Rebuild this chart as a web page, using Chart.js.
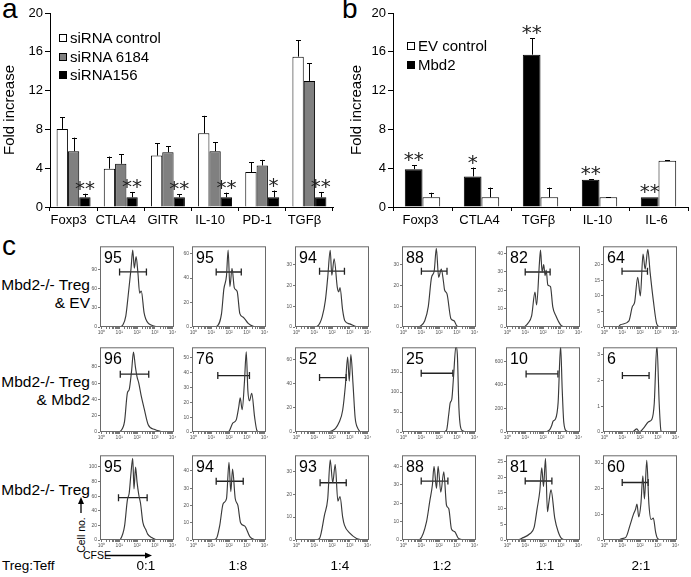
<!DOCTYPE html>
<html>
<head>
<meta charset="utf-8">
<script src="https://cdn.jsdelivr.net/npm/chart.js@4.4.0/dist/chart.umd.min.js"></script>
<style>
  body { margin: 0; background: #fff; }
  #fig { position: relative; width: 691px; height: 577px; overflow: hidden; background: #fff;
         font-family: "Liberation Sans", Arial, sans-serif; color: #000; }
  #fig canvas { position: absolute; }
  .t { position: absolute; white-space: nowrap; }
  .letter { font-size: 28px; line-height: 28px; }
  .legend { position: absolute; font-size: 15px; line-height: 18px; }
  .legend div { position: relative; padding-left: 11px; height: 18.5px; }
  .legend span { position: absolute; left: 0; top: 5px; width: 6px; height: 6px; border: 1px solid #000; }
  .rowlab { position: absolute; left: 0; width: 90px; text-align: right; font-size: 15.5px; line-height: 18px; }
  .ratio { position: absolute; top: 558px; width: 40px; margin-left: -20px; text-align: center; font-size: 13.5px; }
</style>
</head>
<body>
<div id="fig">
  <div class="t letter" style="left:2px;top:-5px;">a</div>
  <div class="t letter" style="left:342px;top:-5px;">b</div>
  <div class="t letter" style="left:2px;top:232px;">c</div>
  <canvas id="chartA" width="340" height="235" style="left:0;top:0;"></canvas>
  <canvas id="chartB" width="351" height="235" style="left:340px;top:0;"></canvas>
  <div id="legendA" class="legend" style="left:59px;top:29px;"></div>
  <div id="legendB" class="legend" style="left:407px;top:37px;"></div>
  <div class="rowlab" style="top:276px;">Mbd2-/- Treg<br>&amp; EV</div>
  <div class="rowlab" style="top:373px;">Mbd2-/- Treg<br>&amp; Mbd2</div>
  <div class="rowlab" style="top:481px;">Mbd2-/- Treg</div>
  <div class="t" style="left:2px;top:558px;font-size:13.5px;">Treg:Teff</div>
  <div class="t" style="left:62px;top:529px;font-size:10.5px;transform:rotate(-90deg);transform-origin:center;width:38px;text-align:center;">Cell no.</div>
  <div class="t" style="left:83px;top:549px;font-size:10.5px;">CFSE</div>
  <svg style="position:absolute;left:0;top:0;" width="691" height="577">
    <line x1="81" y1="513" x2="81" y2="503" stroke="#000" stroke-width="1.3"/>
    <polygon points="78,504 84,504 81,497" fill="#000"/>
    <line x1="106" y1="555.5" x2="146" y2="555.5" stroke="#000" stroke-width="1.3"/>
    <polygon points="145,552.5 145,558.5 152,555.5" fill="#000"/>
  </svg>
</div>
<script>
// ---- panel a: siRNA knock-down ----
const genesA = ['Foxp3', 'CTLA4', 'GITR', 'IL-10', 'PD-1', 'TGFβ'];
const seriesA = ['siRNA control', 'siRNA 6184', 'siRNA156'];
const ctrlA = [8.05, 3.95, 5.3, 7.6, 3.6, 15.5];
const ctrlErrA = [1.2, 1.25, 1.25, 1.8, 1.0, 1.7];
const s6184A = [5.75, 4.45, 5.65, 5.75, 4.28, 13.0];
const s6184ErrA = [1.4, 1.0, 0.6, 0.9, 0.58, 1.8];
const s156A = [1, 1, 1, 1, 1, 1];
const s156ErrA = [0.37, 0.55, 0.3, 0.48, 0.7, 0.55];
const starsA = ['**', '**', '**', '**', '*', '**'];

// ---- panel b: Mbd2 over-expression ----
const genesB = ['Foxp3', 'CTLA4', 'TGFβ', 'IL-10', 'IL-6'];
const seriesB = ['EV control', 'Mbd2'];
const mbd2B = [3.9, 3.15, 15.7, 2.8, 1.0];
const mbd2ErrB = [0.42, 0.92, 1.7, 0.07, 0];
const evB = [1.0, 1.0, 1.0, 1.0, 4.78];
const evErrB = [0.47, 1.0, 1.0, 0.03, 0.06];
const starsB = ['**', '*', '**', '**', '**'];

// ---- panel c: CFSE histograms, points are [log10 CFSE, cell count] ----
const row1Curves = [
  [[1.05,0],[1.2,3],[1.37,17],[1.5,48],[1.66,90],[1.76,120],[1.85,92],[1.95,110],[2.05,85],[2.15,53],[2.24,56],[2.4,22],[2.5,12],[2.63,6],[2.8,3],[3.0,1],[3.2,0]],
  [[1.1,0],[1.3,0.5],[1.58,11],[1.71,31],[1.86,42],[1.95,63],[2.05,33],[2.17,48],[2.3,32],[2.46,29],[2.61,11],[2.8,8],[3.08,3],[3.36,0.5],[3.5,0]],
  [[1.0,0],[1.2,0.5],[1.45,5],[1.63,13],[1.76,24],[1.9,37],[1.99,25],[2.12,33],[2.3,19],[2.38,17],[2.45,19],[2.6,8],[2.72,3],[3.0,1.5],[3.3,0.3],[3.5,0]],
  [[0.9,0],[1.2,3],[1.4,10],[1.58,24],[1.73,27],[1.85,38],[1.98,24],[2.13,28],[2.25,22],[2.31,18],[2.45,16],[2.67,4],[2.85,3],[3.0,0.5],[3.2,0]],
  [[0.95,0],[1.15,2],[1.36,6],[1.55,19],[1.64,12],[1.8,35],[1.86,42],[1.95,30],[2.04,34],[2.12,28],[2.18,31],[2.27,23],[2.42,22],[2.55,11],[2.73,6],[3.0,1],[3.2,0]],
  [[0.8,0],[0.9,0.7],[1.38,2],[1.56,6.4],[1.7,8],[1.87,16],[2.02,10],[2.17,23.5],[2.29,18.6],[2.44,25],[2.57,17.5],[2.75,8.5],[2.94,1],[3.1,0]]
];
const row2Curves = [
  [[1.0,0],[1.07,1],[1.3,13],[1.46,48],[1.56,52],[1.7,76],[1.8,98],[1.91,80],[2.0,68],[2.1,60],[2.24,44],[2.4,29],[2.63,9],[3.0,3],[3.3,1],[3.5,0]],
  [[1.95,0],[2.03,1],[2.21,6],[2.4,8],[2.55,17],[2.63,23],[2.74,15],[2.87,34],[2.97,54],[3.06,28],[3.15,21],[3.28,26],[3.44,10],[3.57,1],[3.7,0]],
  [[1.8,0],[2.0,1],[2.2,3],[2.4,8],[2.6,18],[2.75,38],[2.88,62],[2.97,42],[3.06,64],[3.18,40],[3.3,12],[3.45,3],[3.6,0]],
  [[2.2,0],[2.42,4],[2.55,45],[2.63,73],[2.72,82],[2.82,140],[2.95,215],[3.03,195],[3.12,60],[3.2,15],[3.32,3],[3.55,0]],
  [[2.2,0],[2.38,20],[2.5,60],[2.57,93],[2.7,110],[2.85,250],[2.99,730],[3.08,360],[3.17,80],[3.32,8],[3.5,0]],
  [[1.6,0],[1.82,0.12],[1.97,0],[2.2,0.15],[2.48,0.4],[2.67,0.5],[2.8,1.1],[2.95,3.4],[3.08,1.1],[3.18,0.05],[3.3,0]]
];
const row3Curves = [
  [[1.0,0],[1.07,1],[1.3,19],[1.46,55],[1.56,64],[1.66,91],[1.76,112],[1.83,70],[1.92,100],[2.0,80],[2.1,62],[2.2,50],[2.33,24],[2.5,14],[2.6,8],[2.85,3],[3.1,0]],
  [[1.1,0],[1.3,1],[1.48,8.5],[1.67,21],[1.86,24],[2.0,45],[2.1,28],[2.2,41],[2.35,24],[2.5,20],[2.65,10],[2.89,8],[3.17,2],[3.5,0]],
  [[1.1,0],[1.3,0.7],[1.58,11],[1.76,18],[1.9,35],[2.04,25],[2.18,33],[2.33,17],[2.45,19],[2.6,10],[2.7,6.5],[3.0,3],[3.38,0.7],[3.7,0]],
  [[0.8,0],[0.92,0.3],[1.3,10],[1.48,21],[1.63,30],[1.72,40],[1.86,28],[1.95,40],[2.1,26],[2.27,37],[2.42,19],[2.55,17],[2.7,6],[2.89,4.5],[3.08,1],[3.36,0]],
  [[0.6,0],[0.79,0.5],[1.26,2],[1.5,4],[1.67,10],[1.82,15.6],[1.93,23],[2.03,17],[2.14,26],[2.25,9],[2.33,12],[2.45,16],[2.66,7],[2.85,2.7],[3.04,0.5],[3.3,0]],
  [[0.8,0],[1.0,0.6],[1.2,1],[1.45,6],[1.63,10],[1.75,12],[1.83,14],[1.93,9],[2.05,14],[2.16,25],[2.25,16],[2.38,31],[2.5,14],[2.62,8],[2.75,8.5],[2.88,3],[3.0,0.5],[3.2,0]]
];
// gated percentage, gate [from, to, level] and y-axis range per histogram
const row1Pct = [95, 95, 94, 88, 82, 64];
const row2Pct = [96, 76, 52, 25, 10, 6];
const row3Pct = [95, 94, 93, 88, 81, 60];
const row1Gates = [[1.02,2.53,86],[1.28,2.69,45],[1.3,2.7,27],[1.01,2.45,27],[1.0,2.4,30],[0.99,2.42,18]];
const row2Gates = [[1.06,2.66,71],[1.37,3.15,38],[1.3,2.8,45],[1.0,2.78,147],[1.05,2.84,494],[1.01,2.51,2.2]];
const row3Gates = [[0.96,2.57,58],[1.28,2.8,34],[1.33,2.8,25],[1.0,2.5,32],[1.0,2.5,18.8],[1.0,2.46,22.4]];
const row1YMax = [126, 66, 39, 39, 44, 26];
const row2YMax = [104, 57, 70, 212, 720, 3.3];
const row3YMax = [116, 49, 37, 46, 27, 33];
const row1YStep = [30, 20, 10, 10, 10, 5];
const row2YStep = [20, 10, 20, 50, 200, 1];
const row3YStep = [20, 10, 10, 10, 5, 10];
const ratios = ['0:1', '1:8', '1:4', '1:2', '1:1', '2:1'];

// layout of the histogram grid (pixels)
const colLeft = [100, 192, 295, 402, 506, 603];
const rowTop = [244, 345, 453];
const rowBottom = [327, 432, 540];
const ratioX = [146, 238, 340, 442, 545, 641];
const FRAME_W = 74;

Chart.defaults.font.family = '"Liberation Sans", Arial, sans-serif';
Chart.defaults.color = '#000';

const fig = document.getElementById('fig');

// legends
function buildLegend(id, names, fills) {
  const el = document.getElementById(id);
  names.forEach((n, i) => {
    const row = document.createElement('div');
    row.innerHTML = '<span style="background:' + fills[i] + '"></span>' + n;
    el.appendChild(row);
  });
}
buildLegend('legendA', seriesA, ['#fff', '#808080', '#000']);
buildLegend('legendB', seriesB, ['#fff', '#000']);

ratios.forEach((r, i) => {
  const d = document.createElement('div');
  d.className = 'ratio';
  d.style.left = ratioX[i] + 'px';
  d.textContent = r;
  fig.appendChild(d);
});

// error bars (upper only) and significance stars
const errorBars = {
  id: 'errorBars',
  afterDatasetsDraw(chart) {
    const ctx = chart.ctx, y = chart.scales.y;
    ctx.save();
    chart.data.datasets.forEach((ds, i) => {
      chart.getDatasetMeta(i).data.forEach((bar, j) => {
        const err = ds.errors ? ds.errors[j] : 0;
        const yTop = y.getPixelForValue(ds.data[j] + err);
        const x = Math.round(bar.x) + 0.5;
        if (err > 0) {
          ctx.strokeStyle = '#000';
          ctx.lineWidth = 1;
          ctx.beginPath();
          ctx.moveTo(x, bar.y);
          ctx.lineTo(x, yTop);
          ctx.moveTo(x - 2.5, Math.round(yTop) + 0.5);
          ctx.lineTo(x + 2.5, Math.round(yTop) + 0.5);
          ctx.stroke();
        }
        if (ds.stars && ds.stars[j]) {
          ctx.fillStyle = '#222';
          ctx.font = '20px "DejaVu Sans"';
          ctx.textAlign = 'center';
          ctx.textBaseline = 'alphabetic';
          ctx.fillText(ds.stars[j], bar.x, yTop + 1);
        }
      });
    });
    ctx.restore();
  }
};

function barChart(id, labels, datasets, o) {
  return new Chart(document.getElementById(id), {
    type: 'bar',
    data: { labels: labels, datasets: datasets },
    options: {
      responsive: false,
      animation: false,
      layout: { padding: { top: 13, right: o.right, bottom: 6, left: 0 } },
      datasets: { bar: { barPercentage: 1, categoryPercentage: o.cat, borderColor: '#000', borderWidth: 1 } },
      plugins: { legend: { display: false }, tooltip: { enabled: false } },
      scales: {
        x: {
          grid: { drawOnChartArea: false, tickLength: 4, color: '#000', offset: true },
          border: { color: '#000' },
          ticks: { font: { size: 13 }, padding: 2, maxRotation: 0, labelOffset: o.labelOffset },
          afterFit: s => { s.height = 22; }
        },
        y: {
          min: 0, max: 20,
          grid: { drawOnChartArea: false, tickLength: 5, color: '#000' },
          border: { color: '#000' },
          ticks: { stepSize: 4, font: { size: 13 }, padding: 2 },
          title: { display: true, text: 'Fold increase', font: { size: 15 }, padding: { top: o.titlePad, bottom: 0 } },
          afterFit: s => { s.width = o.axisW; }
        }
      }
    },
    plugins: [errorBars]
  });
}

barChart('chartA', genesA, [
  { label: seriesA[0], data: ctrlA, errors: ctrlErrA, backgroundColor: '#fff' },
  { label: seriesA[1], data: s6184A, errors: s6184ErrA, backgroundColor: '#808080' },
  { label: seriesA[2], data: s156A, errors: s156ErrA, stars: starsA, backgroundColor: '#000' }
], { right: 7, cat: 0.72, labelOffset: -5, titlePad: 1, axisW: 50 });

barChart('chartB', genesB, [
  { label: seriesB[1], data: mbd2B, errors: mbd2ErrB, stars: starsB, backgroundColor: '#000' },
  { label: seriesB[0], data: evB, errors: evErrB, backgroundColor: '#fff' }
], { right: 3, cat: 0.6, labelOffset: -2, titlePad: 8, axisW: 53 });

// histogram frame + gated percentage
const framePct = {
  id: 'framePct',
  afterDraw(chart, args, opts) {
    const { ctx, chartArea: a } = chart;
    ctx.save();
    ctx.strokeStyle = '#6a6a6a';
    ctx.lineWidth = 1;
    ctx.strokeRect(a.left + 0.5, a.top + 0.5, a.right - a.left - 1, a.bottom - a.top - 1);
    ctx.fillStyle = '#000';
    ctx.font = '16px "Liberation Sans", Arial, sans-serif';
    ctx.textBaseline = 'alphabetic';
    ctx.textAlign = 'left';
    ctx.fillText(opts.text, a.left + 4, a.top + 17);
    ctx.restore();
  }
};

const sup = ['\u2070', '\u00b9', '\u00b2', '\u00b3', '\u2074'];
const decadeTicks = [];
for (let d = 0; d < 4; d++) for (let k = 1; k < 10; k++) decadeTicks.push(d + Math.log10(k));
decadeTicks.push(4);

const rows = [
  { curves: row1Curves, pct: row1Pct, gates: row1Gates, ymax: row1YMax, ystep: row1YStep },
  { curves: row2Curves, pct: row2Pct, gates: row2Gates, ymax: row2YMax, ystep: row2YStep },
  { curves: row3Curves, pct: row3Pct, gates: row3Gates, ymax: row3YMax, ystep: row3YStep }
];

rows.forEach((row, r) => {
  for (let c = 0; c < 6; c++) {
    const h = rowBottom[r] - rowTop[r];
    const cv = document.createElement('canvas');
    cv.width = FRAME_W + 20;
    cv.height = h + 15;
    cv.style.left = (colLeft[c] - 14) + 'px';
    cv.style.top = (rowTop[r] - 3) + 'px';
    fig.appendChild(cv);
    const g = row.gates[c];
    const step = row.ystep[c];
    new Chart(cv, {
      type: 'line',
      data: {
        datasets: [
          { data: row.curves[c].map(p => ({ x: p[0], y: p[1] })), borderColor: '#3a3a3a', borderWidth: 1.15,
            pointRadius: 0, cubicInterpolationMode: 'monotone' },
          { data: [{ x: g[0], y: g[2] }, { x: g[1], y: g[2] }], borderColor: '#222', borderWidth: 1.3,
            pointStyle: 'line', pointRotation: 90, pointRadius: 3.5, pointBorderColor: '#222', pointBorderWidth: 1.3 }
        ]
      },
      options: {
        responsive: false,
        animation: false,
        layout: { padding: { top: 3, right: 6, bottom: 0, left: 0 } },
        plugins: { legend: { display: false }, tooltip: { enabled: false }, framePct: { text: String(row.pct[c]) } },
        scales: {
          x: {
            type: 'linear', min: -0.08, max: 4.08,
            grid: { drawOnChartArea: false, tickLength: 2, color: '#777' },
            border: { display: false },
            afterBuildTicks: s => { s.ticks = decadeTicks.map(v => ({ value: v })); },
            ticks: { autoSkip: false, maxRotation: 0, padding: 1, color: '#555', font: { size: 5 },
                     callback: v => Number.isInteger(v) ? '10' + sup[v] : '' },
            afterFit: s => { s.height = 12; }
          },
          y: {
            min: 0, max: row.ymax[c],
            grid: { drawOnChartArea: false, tickLength: 2, color: '#777' },
            border: { display: false },
            afterBuildTicks: s => { s.ticks = s.ticks.filter(t => Math.abs(t.value / step - Math.round(t.value / step)) < 1e-6); },
            ticks: { stepSize: step, padding: 1, color: '#555', font: { size: 5 } },
            afterFit: s => { s.width = 14; }
          }
        }
      },
      plugins: [framePct]
    });
  }
});
</script>
</body>
</html>
